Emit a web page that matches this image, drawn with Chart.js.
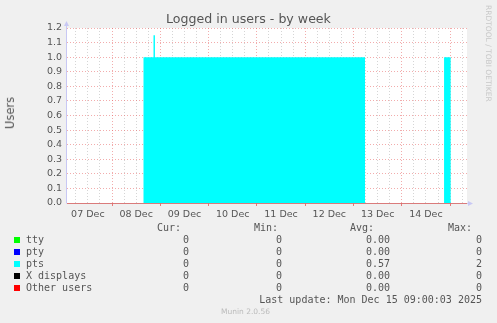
<!DOCTYPE html>
<html>
<head>
<meta charset="utf-8">
<title>Logged in users - by week</title>
<script src="https://cdn.jsdelivr.net/npm/chart.js@4.4.1/dist/chart.umd.min.js"></script>
<style>
  body { margin: 0; background: #f0f0f0; }
  #wrap { position: relative; width: 497px; height: 323px; overflow: hidden;
          font-family: "DejaVu Sans", sans-serif; color: #555; }
  canvas { position: absolute; left: 0; top: 0; }
  .t { position: absolute; white-space: pre; line-height: 12px; }
  .mono { font-family: "DejaVu Sans Mono", monospace; font-size: 10px; }
  .sw { position: absolute; width: 6px; height: 6px; }
  #title { left: 0; width: 497px; top: 13px; text-align: center; font-size: 12.6px; }
  #ylab { left: 4px; top: 97px; font-size: 11.5px; writing-mode: vertical-rl; transform: rotate(180deg); }
  #rrd { left: 484px; top: 5px; font-size: 7.5px; color: #c8c8c8; writing-mode: vertical-rl; line-height: 8px; }
  #munin { left: 0; width: 491px; top: 306px; text-align: center; font-size: 7.5px; color: #bbb; }
</style>
</head>
<body>
<div id="wrap">
  <canvas id="usersChart" width="497" height="323"></canvas>
  <div class="t" id="title">Logged in users - by week</div>
  <div class="t" id="ylab">Users</div>
  <div class="t" id="rrd">RRDTOOL / TOBI OETIKER</div>
  <div class="t" id="munin">Munin 2.0.56</div>
</div>
<script>
// pts series, stepped: value holds from times[i] until times[i+1] (day of December)
const times = [7.068, 8.652, 8.859, 8.889, 13.238, 14.875, 15.012, 15.35];
const pts = [0, 1, 1.15, 1, 0, 1, 0, 0];

// x labels (noon of each day) and y tick labels
const labelDays = [7, 8, 9, 10, 11, 12, 13, 14];
const dayLabels = ['07 Dec', '08 Dec', '09 Dec', '10 Dec', '11 Dec', '12 Dec', '13 Dec', '14 Dec'];
const yLabels = ['0.0', '0.1', '0.2', '0.3', '0.4', '0.5', '0.6', '0.7', '0.8', '0.9', '1.0', '1.1', '1.2'];

// legend table
const seriesNames = ['tty', 'pty', 'pts', 'X displays', 'Other users'];
const seriesColors = ['#00ff00', '#0000ff', '#00ffff', '#000000', '#ff0000'];
const curVals = ['0', '0', '0', '0', '0'];
const minVals = ['0', '0', '0', '0', '0'];
const avgVals = ['0.00', '0.00', '0.57', '0.00', '0.00'];
const maxVals = ['0', '0', '2', '0', '0'];
const lastUpdate = 'Last update: Mon Dec 15 09:00:03 2025';

const wrap = document.getElementById('wrap');
function addText(txt, css) {
    const d = document.createElement('div');
    d.className = 't mono';
    d.textContent = txt;
    Object.assign(d.style, css);
    wrap.appendChild(d);
    return d;
}
// header
addText('Cur:', { right: (497 - 181) + 'px', top: '222px' });
addText('Min:', { right: (497 - 278) + 'px', top: '222px' });
addText('Avg:', { right: (497 - 374) + 'px', top: '222px' });
addText('Max:', { right: (497 - 472) + 'px', top: '222px' });
seriesNames.forEach((name, i) => {
    const y = 240 + i * 12;
    const sw = document.createElement('div');
    sw.className = 'sw';
    sw.style.left = '14px';
    sw.style.top = (y - 3) + 'px';
    sw.style.background = seriesColors[i];
    wrap.appendChild(sw);
    addText(name, { left: '26px', top: (y - 6) + 'px' });
    addText(curVals[i], { right: (497 - 189) + 'px', top: (y - 6) + 'px' });
    addText(minVals[i], { right: (497 - 282) + 'px', top: (y - 6) + 'px' });
    addText(avgVals[i], { right: (497 - 390) + 'px', top: (y - 6) + 'px' });
    addText(maxVals[i], { right: (497 - 482) + 'px', top: (y - 6) + 'px' });
});
addText(lastUpdate, { right: (497 - 482) + 'px', top: '294px' });

const isMidnight = v => Math.abs(v - Math.round(v)) < 1e-6;

// white plot background + axis lines with arrows
const munin = {
    id: 'munin',
    beforeDraw(chart) {
        const { ctx, chartArea: a } = chart;
        ctx.save();
        ctx.fillStyle = '#ffffff';
        ctx.fillRect(a.left, a.top, a.right - a.left, a.bottom - a.top);
        ctx.restore();
    },
    afterDraw(chart) {
        const { ctx, chartArea: a } = chart;
        ctx.save();
        ctx.strokeStyle = '#c8c8f4';
        ctx.fillStyle = '#c8c8f4';
        ctx.lineWidth = 1;
        ctx.beginPath();
        ctx.moveTo(a.left - 0.5, a.bottom + 0.5);
        ctx.lineTo(a.left - 0.5, a.top - 2);
        ctx.moveTo(a.right, a.bottom + 0.5);
        ctx.lineTo(a.right + 2, a.bottom + 0.5);
        ctx.stroke();
        ctx.beginPath();
        ctx.moveTo(a.left - 3, a.top - 2);
        ctx.lineTo(a.left + 2, a.top - 2);
        ctx.lineTo(a.left - 0.5, a.top - 7);
        ctx.closePath();
        ctx.fill();
        ctx.beginPath();
        ctx.moveTo(a.right + 1, a.bottom - 2);
        ctx.lineTo(a.right + 1, a.bottom + 3);
        ctx.lineTo(a.right + 6, a.bottom + 0.5);
        ctx.closePath();
        ctx.fill();
        ctx.restore();
    }
};

const chartCtx = document.getElementById('usersChart').getContext('2d');
const usersChart = new Chart(chartCtx, {
    type: 'line',
    data: {
        datasets: [{
            label: 'pts',
            data: times.map((t, i) => ({ x: t, y: pts[i] })),
            stepped: true,
            fill: 'origin',
            backgroundColor: '#00ffff',
            borderColor: 'rgba(0,0,0,0)',
            borderWidth: 0,
            pointRadius: 0
        }]
    },
    options: {
        responsive: false,
        animation: false,
        devicePixelRatio: 1,
        layout: { padding: { left: 0, right: 30, top: 28, bottom: 100 } },
        plugins: { legend: { display: false }, tooltip: { enabled: false } },
        scales: {
            x: {
                type: 'linear',
                min: times[0],
                max: times[times.length - 1],
                z: 1,
                afterFit: s => { s.height = 20; },
                afterBuildTicks: s => {
                    const ticks = [];
                    for (let d = 7; d <= 15; d++) {
                        [0, 0.25, 0.5, 0.75].forEach(f => {
                            const v = d + f;
                            if (v > s.min && v < s.max) ticks.push({ value: v });
                        });
                    }
                    s.ticks = ticks;
                },
                grid: {
                    color: c => isMidnight(c.tick.value) ? 'rgba(230,90,90,0.5)' : 'rgba(150,150,150,0.4)',
                    tickColor: c => isMidnight(c.tick.value) ? 'rgba(230,90,90,0.8)' : 'rgba(0,0,0,0)',
                    tickLength: 3
                },
                border: { display: false, dash: [1, 2] },
                ticks: {
                    autoSkip: false,
                    maxRotation: 0,
                    padding: 3,
                    color: '#555',
                    font: { family: 'DejaVu Sans', size: 9.5 },
                    callback: v => {
                        const i = labelDays.findIndex(d => Math.abs(d + 0.5 - v) < 1e-6);
                        return i >= 0 ? dayLabels[i] : '';
                    }
                }
            },
            y: {
                min: 0,
                max: 1.2,
                z: 1,
                afterFit: s => { s.width = 67; },
                grid: {
                    color: c => c.tick.value === 0 ? 'rgba(215,110,110,0.9)' : 'rgba(230,90,90,0.5)',
                    drawTicks: false
                },
                border: { display: false, dash: c => (c.tick && c.tick.value === 0) ? [] : [1, 2] },
                ticks: {
                    stepSize: 0.1,
                    padding: 5,
                    color: '#555',
                    font: { family: 'DejaVu Sans', size: 9.5 },
                    callback: (v) => yLabels[Math.round(v * 10)]
                }
            }
        }
    },
    plugins: [munin]
});
</script>
</body>
</html>
